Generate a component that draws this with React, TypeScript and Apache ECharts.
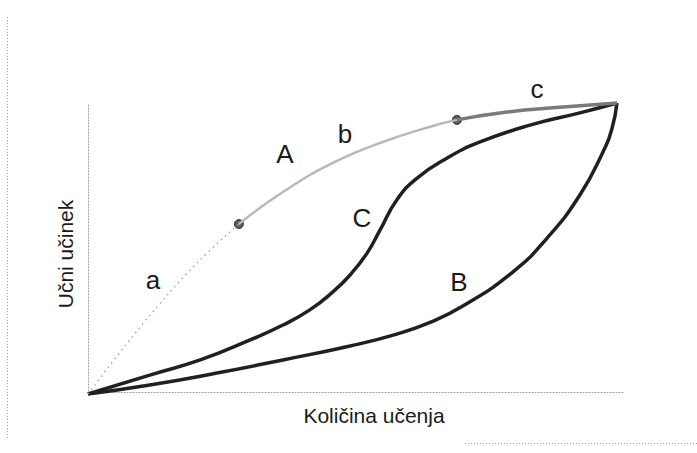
import React, { useEffect, useRef } from "react";
import * as echarts from "echarts";

// Curve A split into its three phases a, b, c (x = količina učenja, y = učni učinek, 0-100)
const curveA_a: [number, number][] = [
  [0, 0], [10.2, 24.1], [20.3, 45.0], [28.1, 58.4],
];
const curveA_b: [number, number][] = [
  [28.1, 58.4], [36.3, 69.4], [45.6, 79.4], [54.9, 86.6], [64.2, 92.1], [68.7, 94.2],
];
const curveA_c: [number, number][] = [
  [68.7, 94.2], [76.7, 96.6], [88.5, 98.6], [98.5, 100],
];
const phasePoints: [number, number][] = [[28.1, 58.4], [68.7, 94.2]];

const curveC: [number, number][] = [
  [0, 0], [11.5, 6.5], [20.9, 11.7], [30.2, 18.6], [36.3, 23.7], [41.3, 28.9], [45.6, 35.1],
  [48.8, 40.9], [52.0, 48.5], [54.4, 56.4], [57.5, 66.7], [61.3, 74.2], [66.9, 81.1],
  [73.0, 86.6], [82.3, 92.4], [91.6, 96.6], [98.5, 100],
];
const curveB: [number, number][] = [
  [0, 0], [11.5, 3.1], [24.0, 7.2], [36.3, 11.7], [48.8, 16.5], [57.5, 20.6], [63.7, 24.6],
  [69.8, 30.2], [79.1, 41.9], [85.5, 53.6], [91.6, 68.4], [95.9, 83.2], [97.6, 91.4], [98.5, 100],
];

const xTitle = "Količina učenja";
const yTitle = "Učni učinek";
const curveLabels: { text: string; x: number; y: number }[] = [
  { text: "A", x: 285, y: 154 },
  { text: "b", x: 345, y: 134 },
  { text: "c", x: 537, y: 89 },
  { text: "a", x: 153, y: 280 },
  { text: "C", x: 362, y: 218 },
  { text: "B", x: 459, y: 282 },
];

const FONT = "'Liberation Sans', Arial, sans-serif";
const INK = "#1a1a1a";

export default function App() {
  const ref = useRef<HTMLDivElement>(null);
  useEffect(() => {
    if (!ref.current) return;
    const chart = echarts.init(ref.current, null, { renderer: "svg" });
    const dotted = { color: "#9a9a9a", width: 1, type: [1, 2] as number[] };
    chart.setOption({
      animation: false,
      backgroundColor: "#ffffff",
      grid: { left: 88, right: 72, top: 103, bottom: 59 },
      xAxis: {
        type: "value", min: 0, max: 100, offset: -2,
        axisLine: { show: true, lineStyle: dotted },
        axisTick: { show: false }, axisLabel: { show: false }, splitLine: { show: false },
      },
      yAxis: {
        type: "value", min: 0, max: 100, offset: 6,
        axisLine: { show: true, lineStyle: dotted },
        axisTick: { show: false }, axisLabel: { show: false }, splitLine: { show: false },
      },
      series: [
        {
          type: "line", data: curveB, smooth: 0.5, symbol: "none",
          lineStyle: { color: "#202020", width: 3.5 },
        },
        {
          type: "line", data: curveC, smooth: 0.5, symbol: "none",
          lineStyle: { color: "#202020", width: 3.5 },
        },
        {
          type: "line", data: curveA_a, smooth: 0.4, symbol: "none",
          lineStyle: { color: "#a8a8a8", width: 1.5, type: [1.5, 4] },
        },
        {
          type: "line", data: curveA_b, smooth: 0.5, symbol: "none",
          lineStyle: { color: "#b8b8b8", width: 2.5 },
        },
        {
          type: "line", data: curveA_c, smooth: 0.5, symbol: "none",
          lineStyle: { color: "#7a7a7a", width: 3.5 },
        },
        {
          type: "scatter", data: phasePoints, symbolSize: 9,
          itemStyle: { color: "#333333", borderColor: "#111", borderWidth: 1 },
        },
      ],
      graphic: [
        { type: "line", shape: { x1: 7.5, y1: 17, x2: 7.5, y2: 438 }, style: { stroke: "#9a9a9a", lineWidth: 1, lineDash: [1, 2] } },
        { type: "line", shape: { x1: 465, y1: 443.5, x2: 697, y2: 443.5 }, style: { stroke: "#9a9a9a", lineWidth: 1, lineDash: [1, 2] } },
        {
          type: "text", x: 374, y: 415,
          style: { text: xTitle, fontSize: 21, fontFamily: FONT, fill: INK, align: "center", verticalAlign: "middle" },
        },
        {
          type: "text", x: 65, y: 254, rotation: Math.PI / 2,
          style: { text: yTitle, fontSize: 21, fontFamily: FONT, fill: INK, align: "center", verticalAlign: "middle" },
        },
        ...curveLabels.map((l) => ({
          type: "text", x: l.x, y: l.y,
          style: { text: l.text, fontSize: 26, fontFamily: FONT, fill: INK, align: "center", verticalAlign: "middle" },
        })),
      ],
    });
    return () => chart.dispose();
  }, []);
  return <div ref={ref} style={{ position: "fixed", left: 0, top: 0, width: 697, height: 453 }} />;
}
